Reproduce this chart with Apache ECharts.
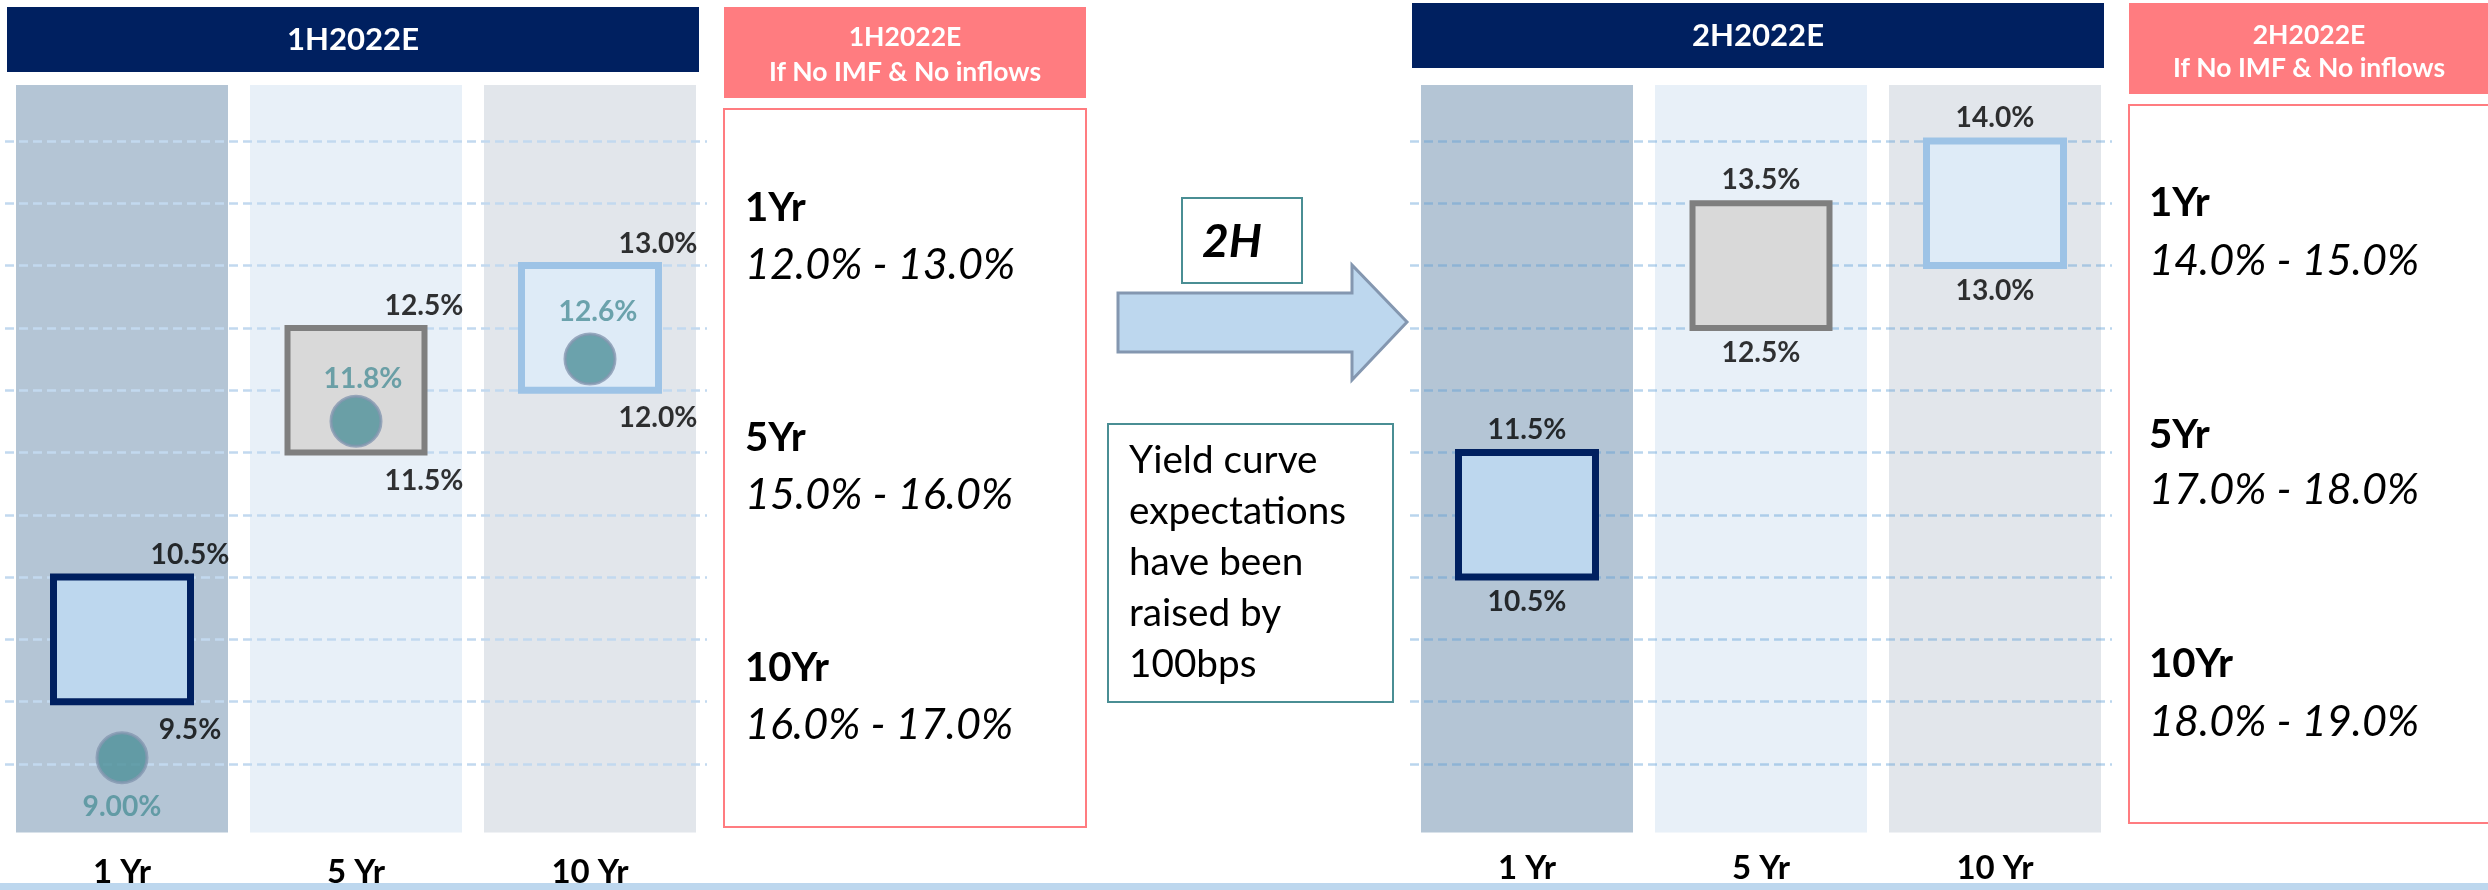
<!DOCTYPE html>
<html><head><meta charset="utf-8">
<script src="https://cdn.jsdelivr.net/npm/echarts@6/dist/echarts.min.js"></script>
<style>html,body{margin:0;padding:0;background:#fff;overflow:hidden}#c{width:2488px;height:890px}</style>
</head><body><div id="c"></div>
<script>
// ---------------- DATA ----------------
const categories = ['1 Yr', '5 Yr', '10 Yr'];
const gridValues = [9.0, 9.5, 10.0, 10.5, 11.0, 11.5, 12.0, 12.5, 13.0, 13.5, 14.0];
const columnTop = [14.45, 14.45, 14.45];
const h1Low = [9.5, 11.5, 12.0];
const h1High = [10.5, 12.5, 13.0];
const h1Dot = [9.05, 11.75, 12.25];
const h1DotLabels = ['9.00%', '11.8%', '12.6%'];
const h2Low = [10.5, 12.5, 13.0];
const h2High = [11.5, 13.5, 14.0];
const h1Header = '1H2022E';
const h2Header = '2H2022E';
const h1ScenarioHeader = ['1H2022E', 'If No IMF & No inflows'];
const h2ScenarioHeader = ['2H2022E', 'If No IMF & No inflows'];
const scenarioTenors = ['1Yr', '5Yr', '10Yr'];
const h1ScenarioRanges = ['12.0% - 13.0%', '15.0% - 16.0%', '16.0% - 17.0%'];
const h2ScenarioRanges = ['14.0% - 15.0%', '17.0% - 18.0%', '18.0% - 19.0%'];
const arrowLabel = '2H';
const noteLines = ['Yield curve', 'expectations', 'have been', 'raised by', '100bps'];

// ---------------- STYLE ----------------
const FONT = 'Lato';
const colColors = ['#B4C5D5', '#E8F0F8', '#E2E6EB'];
const boxFill = ['#BDD7EE', '#D9D9D9', '#DEEBF7'];
const boxBorder = ['#002060', '#7F7F7F', '#9DC3E6'];
const boxBorderW = [7, 6, 7];
const teal = '#4E9099';
const navy = '#002060';
const pink = '#FF7C80';
const dotLabelOffsets = [[0, 49], [7, -42], [8, -47]];
const Y_MIN = 8.45, Y_MAX = 14.5;
const GRID_TOP = 78.7, GRID_H = 753.8, GRID_W = 702;
const BOX_W = 137;

// font sizes fitted to the widths measured on the reference
const _ctx = document.createElement('canvas').getContext('2d');
function fit(str, style, target) {
  _ctx.font = (style ? style + ' ' : '') + '100px ' + FONT;
  return Math.round(1000 * target / _ctx.measureText(str).width) / 10;
}
const SZ_NAVY = fit('1H2022E', 'bold', 132);
const SZ_PINK = Math.min(fit('If No IMF & No inflows', 'bold', 272), 30);
const SZ_TENOR = fit('10Yr', 'bold', 84);
const SZ_RANGE = fit('12.0% - 13.0%', 'italic', 270);
const SZ_ARROW = fit('2H', 'italic bold', 60);
const SZ_NOTE = fit('expectations', 'normal', 217);
const SZ_VALUE = fit('12.5%', 'bold', 79);
const SZ_AXIS = fit('10 Yr', 'bold', 77);

function gridDef(left) { return { left: left, top: GRID_TOP, width: GRID_W, height: GRID_H }; }

const chart = echarts.init(document.getElementById('c'), null, { renderer: 'canvas' });

const xAxes = [0, 1, 2, 3].map(i => ({
  type: 'category', gridIndex: i, data: categories,
  show: i % 2 === 1,
  axisLine: { show: false }, axisTick: { show: false }, splitLine: { show: false },
  axisLabel: {
    show: i % 2 === 1, fontFamily: FONT, fontWeight: 'bold', fontSize: SZ_AXIS, color: '#000',
    margin: (i === 1 ? 872 : 868) - (GRID_TOP + GRID_H) - SZ_AXIS / 2, lineHeight: SZ_AXIS
  },
  z: 0
}));
const yAxes = [0, 1, 2, 3].map(i => ({ type: 'value', gridIndex: i, min: Y_MIN, max: Y_MAX, show: false }));

function bgSeries(axisIdx, gridColor) {
  return {
    type: 'bar', xAxisIndex: axisIdx, yAxisIndex: axisIdx, barWidth: 212, z: 1, silent: true, clip: true,
    data: columnTop.map((v, i) => ({ value: v, itemStyle: { color: colColors[i] } })),
    markLine: {
      silent: true, symbol: ['none', 'none'], label: { show: false }, emphasis: { disabled: true },
      lineStyle: { color: gridColor, width: 2.5, type: [9, 5] },
      data: gridValues.map(v => ({ yAxis: v }))
    }
  };
}
function boxSeries(axisIdx, lows, highs) {
  return {
    type: 'custom', xAxisIndex: axisIdx, yAxisIndex: axisIdx, z: 10, silent: true,
    data: lows.map((l, i) => [i, l, highs[i]]),
    encode: { x: 0, y: [1, 2] },
    renderItem: function (params, api) {
      const i = api.value(0);
      const top = api.coord([i, api.value(2)]);
      const bot = api.coord([i, api.value(1)]);
      return {
        type: 'rect',
        shape: { x: top[0] - BOX_W / 2, y: top[1], width: BOX_W, height: bot[1] - top[1] },
        style: { fill: boxFill[i], stroke: boxBorder[i], lineWidth: boxBorderW[i] }
      };
    }
  };
}
function labelSeries(axisIdx, values, offset) {
  return {
    type: 'scatter', xAxisIndex: axisIdx, yAxisIndex: axisIdx, symbolSize: 1, z: 12, silent: true,
    itemStyle: { color: 'rgba(0,0,0,0)' },
    data: values,
    label: { show: true, position: 'inside', offset: offset, formatter: p => p.value.toFixed(1) + '%',
      fontFamily: FONT, fontWeight: 'bold', fontSize: SZ_VALUE, color: '#000' }
  };
}

const series = [
  bgSeries(0, '#C2D9EF'),
  boxSeries(1, h1Low, h1High),
  labelSeries(1, h1High, [68, -22]),
  labelSeries(1, h1Low, [68, 28]),
  {
    type: 'scatter', xAxisIndex: 1, yAxisIndex: 1, symbolSize: 50, z: 11, silent: true,
    itemStyle: { color: teal, borderColor: '#8497B0', borderWidth: 3 },
    data: h1Dot.map((v, i) => ({ value: v, label: { offset: dotLabelOffsets[i] } })),
    label: { show: true, position: 'inside', formatter: p => h1DotLabels[p.dataIndex],
      fontFamily: FONT, fontWeight: 'bold', fontSize: SZ_VALUE, color: teal }
  },
  bgSeries(2, 'rgba(91,155,213,0.42)'),
  boxSeries(3, h2Low, h2High),
  labelSeries(3, h2High, [0, -23]),
  labelSeries(3, h2Low, [0, 25])
];

// ---------------- GRAPHIC (text panels) ----------------
function rect(x, y, w, h, fill, stroke, lw, z) {
  return { type: 'rect', shape: { x: x, y: y, width: w, height: h }, style: { fill: fill, stroke: stroke || null, lineWidth: lw || 0 }, z: z || 1, silent: true };
}
function text(x, y, str, font, fill, align, lh) {
  const st = { text: str, font: font, fill: fill, textAlign: align || 'left', align: align || 'left',
    textVerticalAlign: 'middle', verticalAlign: 'middle' };
  if (lh) st.lineHeight = lh;
  return { type: 'text', x: x, y: y, style: st, z: 20, silent: true };
}
function scenarioTexts(x, ranges, ys) {
  const out = [];
  scenarioTenors.forEach((t, i) => {
    out.push(text(x, ys[i][0], t, 'bold ' + SZ_TENOR + 'px ' + FONT, '#000'));
    out.push(text(x, ys[i][1], ranges[i], 'italic ' + SZ_RANGE + 'px ' + FONT, '#000'));
  });
  return out;
}

const graphics = [
  // 1H header
  rect(7, 7, 692, 65, navy),
  text(353, 40, h1Header, 'bold ' + SZ_NAVY + 'px ' + FONT, '#fff', 'center'),
  // 1H scenario header + box
  rect(724, 7, 362, 91, pink),
  text(905, 37, h1ScenarioHeader[0], 'bold ' + SZ_PINK + 'px ' + FONT, '#fff', 'center'),
  text(905, 72, h1ScenarioHeader[1], 'bold ' + SZ_PINK + 'px ' + FONT, '#fff', 'center'),
  rect(724, 109, 362, 718, '#fff', pink, 2),
  ...scenarioTexts(745, h1ScenarioRanges, [[208, 265], [438, 495], [668, 725]]),
  // arrow + labels
  { type: 'polygon', shape: { points: [[1118, 293], [1352, 293], [1352, 265], [1407, 322], [1352, 380], [1352, 352], [1118, 352]] },
    style: { fill: '#BDD7EE', stroke: '#8497B0', lineWidth: 3 }, z: 2, silent: true },
  rect(1182, 198, 120, 85, '#fff', '#4A8E94', 2),
  text(1232, 242, arrowLabel, 'italic bold ' + SZ_ARROW + 'px ' + FONT, '#000', 'center'),
  rect(1108, 424, 285, 278, '#fff', '#4A8E94', 2),
  text(1129, 563, noteLines.join('\n'), SZ_NOTE + 'px ' + FONT, '#000', 'left', 51),
  // 2H header
  rect(1412, 3, 692, 65, navy),
  text(1758, 36, h2Header, 'bold ' + SZ_NAVY + 'px ' + FONT, '#fff', 'center'),
  // 2H scenario header + box
  rect(2129, 3, 362, 91, pink),
  text(2309, 35, h2ScenarioHeader[0], 'bold ' + SZ_PINK + 'px ' + FONT, '#fff', 'center'),
  text(2309, 68, h2ScenarioHeader[1], 'bold ' + SZ_PINK + 'px ' + FONT, '#fff', 'center'),
  rect(2129, 105, 400, 718, '#fff', pink, 2),
  ...scenarioTexts(2149, h2ScenarioRanges, [[203, 261], [435, 490], [664, 722]]),
  // bottom band
  rect(0, 883, 2488, 7, '#BDD7EE', null, 0, 100)
];

chart.setOption({
  animation: false,
  backgroundColor: '#fff',
  grid: [gridDef(5), gridDef(5), gridDef(1410), gridDef(1410)],
  xAxis: xAxes,
  yAxis: yAxes,
  series: series,
  graphic: { elements: graphics }
});
</script>
</body></html>
